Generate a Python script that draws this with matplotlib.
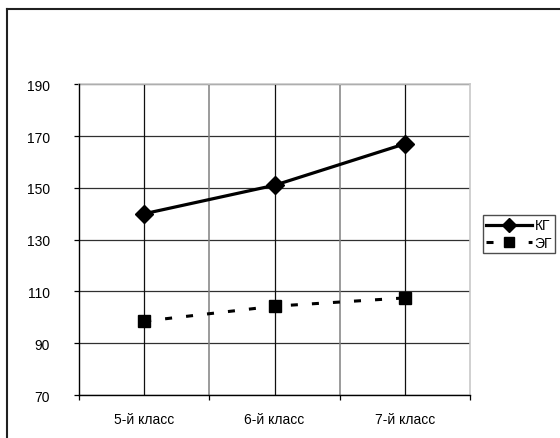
import matplotlib
matplotlib.use("Agg")
import matplotlib.pyplot as plt
from matplotlib.lines import Line2D

plt.rcParams['font.family'] = ['Liberation Sans', 'DejaVu Sans']

categories = ["5-й класс", "6-й класс", "7-й класс"]
kg_values = [140, 151, 167]
eg_values = [98.5, 104.3, 107.5]
series_names = ["КГ", "ЭГ"]
y_ticks = [70, 90, 110, 130, 150, 170, 190]

W, H = 560, 439
fig = plt.figure(figsize=(W / 100, H / 100), dpi=100)

# plot area in pixel coordinates
left, right, top, bottom = 79, 470, 85.3, 396
ax = fig.add_axes([left / W, 1 - bottom / H, (right - left) / W, (bottom - top) / H])

x = list(range(len(categories)))
ax.set_xlim(-0.5, len(categories) - 0.5)
ax.set_ylim(y_ticks[0], y_ticks[-1])

# gridlines
for yv in y_ticks:
    ax.axhline(yv, color='#303030', lw=0.9, zorder=1)
for xb in [0.5, 1.5]:
    ax.axvline(xb, color='#808080', lw=1.1, zorder=1)
for xc in x:
    ax.axvline(xc, color='#101010', lw=0.9, zorder=1)

# series
ax.plot(x, kg_values, color='black', lw=2.3, marker='D', markersize=9,
        label=series_names[0], zorder=3)
ax.plot(x, eg_values, color='black', lw=2.2, marker='s', markersize=9.3,
        linestyle=(0, (2.3, 4.6)), dash_capstyle='butt',
        label=series_names[1], zorder=3)

# axes styling
ax.set_yticks(y_ticks)
ax.tick_params(axis='y', direction='out', length=3.6, width=0.9,
               pad=17.3, labelsize=10, color='black')
ax.set_xticks([-0.5, 0.5, 1.5, 2.5])
ax.set_xticklabels([])
ax.tick_params(axis='x', which='major', direction='out', length=3.6, width=0.9,
               color='black')
ax.set_xticks(x, minor=True)
ax.set_xticklabels(categories, minor=True)
ax.tick_params(axis='x', which='minor', length=0, pad=12.2, labelsize=10)

for side in ['left', 'bottom']:
    ax.spines[side].set_color('black')
    ax.spines[side].set_linewidth(1.0)
    ax.spines[side].set_zorder(4)
for side in ['top', 'right']:
    ax.spines[side].set_color('#c8c8c8')
    ax.spines[side].set_linewidth(1.2)
    ax.spines[side].set_zorder(2)

# legend
leg = ax.legend(loc='upper left',
                bbox_to_anchor=(483 / W, 1 - 216 / H),
                bbox_transform=fig.transFigure,
                fontsize=10, frameon=True, fancybox=False, shadow=False,
                handlelength=3.3, handletextpad=0.15, labelspacing=0.25,
                borderpad=0.25, borderaxespad=0, numpoints=1,
                markerscale=0.8)
leg.get_frame().set_edgecolor('#202020')
leg.get_frame().set_linewidth(1.0)

# chart border
fig.add_artist(Line2D([7 / W, 1.0], [1 - 10 / H, 1 - 10 / H],
                      transform=fig.transFigure, color='#202020', lw=1.5))
fig.add_artist(Line2D([7 / W, 7 / W], [0.0, 1 - 10 / H],
                      transform=fig.transFigure, color='#202020', lw=1.5))

fig.savefig("out.png", dpi=100, facecolor='white')
